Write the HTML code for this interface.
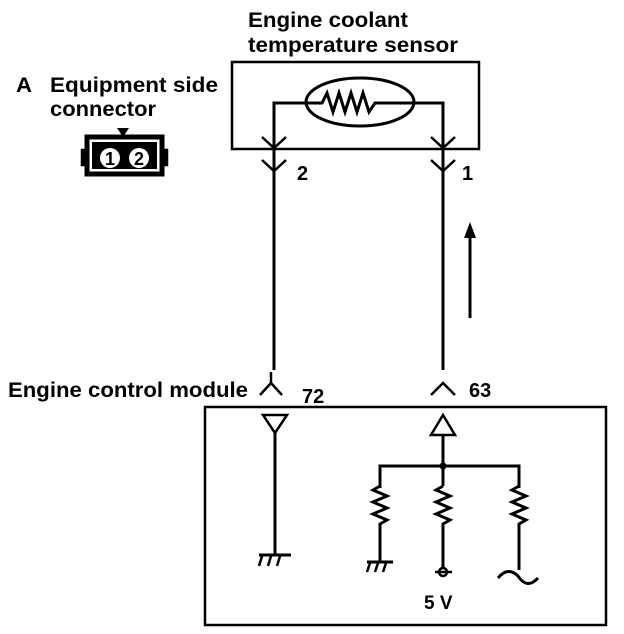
<!DOCTYPE html>
<html><head><style>
body{margin:0;background:#fff;}
svg{display:block}
text{font-family:"Liberation Sans",Arial,sans-serif;fill:#000;font-weight:bold;}
</style></head><body>
<svg width="624" height="634" viewBox="0 0 624 634" xmlns="http://www.w3.org/2000/svg">
<g fill="none" stroke="#000" stroke-width="2.5">
<rect x="232" y="62" width="247" height="87"/>
<ellipse cx="360" cy="102" rx="54" ry="24" stroke-width="3"/>
<polyline points="274,250 274,103 322,103 327,93 333,112 339,93 345,112 351,93 357,112 363,93 369,112 375,103 443,103 443,370" stroke-width="3"/>
<polyline points="262,137 274,148 286,137"/>
<polyline points="431,137 443,148 455,137"/>
<polyline points="262,160 274,171 286,160"/>
<polyline points="431,160 443,171 455,160"/>
<line x1="274" y1="250" x2="274" y2="370" stroke-width="3"/>
<line x1="470" y1="318" x2="470" y2="236" stroke-width="3"/>
<polyline points="260,395 271,383 282,395"/>
<line x1="271" y1="383" x2="271" y2="372"/>
<polyline points="431,395 443,383 455,395"/>
<rect x="205" y="407" width="401" height="218"/>
<polygon points="263,415 287,415 275,433"/>
<line x1="275" y1="433" x2="275" y2="555" stroke-width="3"/>
<line x1="259" y1="555" x2="291" y2="555" stroke-width="3"/>
<line x1="262" y1="556" x2="259" y2="566"/><line x1="271" y1="556" x2="268" y2="566"/><line x1="280" y1="556" x2="277" y2="566"/>
<polygon points="443,415 431,435 455,435"/>
<line x1="443" y1="435" x2="443" y2="466" stroke-width="3"/>
<polyline points="380,488 380,466 519,466 519,488" stroke-width="3"/>
<line x1="443" y1="466" x2="443" y2="486" stroke-width="3"/>
<polyline points="380,486 373,490 387,496 373,502 387,508 373,514 387,520 380,524 380,562" stroke-width="3"/>
<polyline points="443,486 436,490 450,496 436,502 450,508 436,514 450,520 443,524 443,568" stroke-width="3"/>
<polyline points="519,486 512,490 526,496 512,502 526,508 512,514 526,520 519,524 519,570" stroke-width="3"/>
<line x1="367" y1="562" x2="393" y2="562" stroke-width="3"/>
<line x1="370" y1="563" x2="367" y2="572"/><line x1="378" y1="563" x2="375" y2="572"/><line x1="386" y1="563" x2="383" y2="572"/>
<circle cx="443" cy="572" r="4"/>
<line x1="435" y1="572" x2="452" y2="572"/>
<path d="M498,578 Q508,566 518,576 Q527,590 538,578" stroke-width="3"/>
<rect x="87" y="137" width="75" height="37" stroke-width="5"/>
<rect x="82" y="150" width="5" height="15" fill="#000"/>
<rect x="162" y="150" width="5" height="15" fill="#000"/>
</g>
<circle cx="443" cy="466" r="3.5" fill="#000"/>
<polygon points="464,238 470,222 476,238" fill="#000"/>
<polygon points="117,128 129,128 123,137" fill="#000"/>
<rect x="92" y="142" width="65" height="27" fill="#000"/>
<circle cx="110" cy="158" r="10" fill="#fff"/>
<circle cx="139" cy="158" r="10" fill="#fff"/>
<text x="110" y="165" font-size="18" text-anchor="middle">1</text>
<text x="139" y="165" font-size="18" text-anchor="middle">2</text>
<text x="248" y="27" font-size="21" textLength="160" lengthAdjust="spacingAndGlyphs">Engine coolant</text>
<text x="248" y="52" font-size="21" textLength="210" lengthAdjust="spacingAndGlyphs">temperature sensor</text>
<text x="16" y="92" font-size="21" textLength="16" lengthAdjust="spacingAndGlyphs">A</text>
<text x="50" y="92" font-size="21" textLength="168" lengthAdjust="spacingAndGlyphs">Equipment side</text>
<text x="50" y="116" font-size="21" textLength="106" lengthAdjust="spacingAndGlyphs">connector</text>
<text x="297" y="180" font-size="20">2</text>
<text x="462" y="180" font-size="20">1</text>
<text x="8" y="397" font-size="21" textLength="240" lengthAdjust="spacingAndGlyphs">Engine control module</text>
<text x="302" y="403" font-size="20">72</text>
<text x="469" y="397" font-size="20">63</text>
<text x="424" y="609" font-size="19">5  V</text>
</svg>
</body></html>
